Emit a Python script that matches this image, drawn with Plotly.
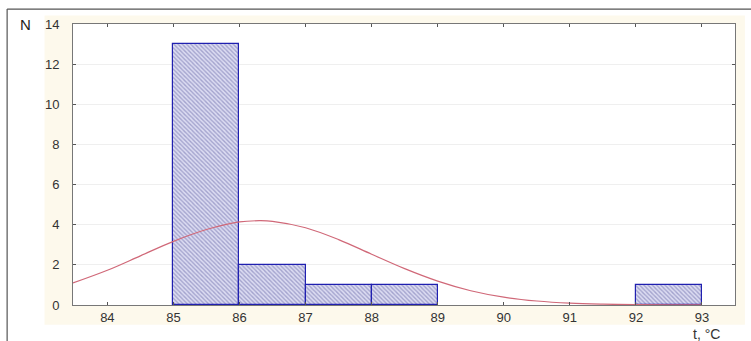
import plotly.graph_objects as go

# Histogram data (bin left edges, bin width 1)
bin_left = [85, 86, 87, 88, 92]
counts = [13, 2, 1, 1, 1]

# Fitted curve
curve_x = [83.48, 84.0, 84.5, 85.0, 85.5, 86.0, 86.3, 86.5, 87.0, 87.5, 88.0,
           88.5, 89.0, 89.5, 90.0, 90.5, 91.0, 91.5, 92.0, 92.5, 93.0]
curve_y = [1.10, 1.73, 2.45, 3.17, 3.76, 4.14, 4.20, 4.17, 3.85, 3.26, 2.53,
           1.81, 1.19, 0.71, 0.39, 0.20, 0.09, 0.04, 0.015, 0.005, 0.002]

x_ticks = [84, 85, 86, 87, 88, 89, 90, 91, 92, 93]
y_ticks = [0, 2, 4, 6, 8, 10, 12, 14]

centers = [b + 0.5 for b in bin_left]

fig = go.Figure()
fig.add_trace(go.Bar(
    x=centers, y=counts, width=[1] * len(centers),
    marker=dict(
        color="#d4d4ee",
        line=dict(color="#2020b0", width=1.2),
        pattern=dict(shape="\\", fgcolor="#6a6aa8", bgcolor="#dcdcf2", size=3, solidity=0.45),
    ),
    showlegend=False, hoverinfo="skip",
))
fig.add_trace(go.Scatter(
    x=curve_x, y=curve_y, mode="lines", line=dict(color="#d06878", width=1.2, shape="spline"),
    showlegend=False, hoverinfo="skip",
))

font = dict(family="Liberation Sans, Arial, sans-serif", size=13, color="#333333")

fig.update_layout(
    width=751, height=341,
    margin=dict(l=73, r=16, t=24, b=36),
    paper_bgcolor="white", plot_bgcolor="white",
    bargap=0, font=font,
    xaxis=dict(range=[83.48, 93.5], tickvals=x_ticks, ticks="inside", ticklen=3,
               tickcolor="#555", showline=True, linecolor="#777", linewidth=1,
               mirror="ticks", showgrid=False, zeroline=False, tickfont=font),
    yaxis=dict(range=[0, 14], tickvals=y_ticks, ticks="inside", ticklen=3,
               tickcolor="#555", showline=True, linecolor="#777", linewidth=1,
               mirror="ticks", showgrid=True, gridcolor="#efefef", zeroline=False,
               tickfont=font, ticklabelstandoff=10),
    shapes=[
        dict(type="rect", xref="paper", yref="paper", x0=-0.043, x1=1.015, y0=-0.07, y1=1.03,
             fillcolor="#fdf9ec", line=dict(width=0), layer="below"),
        dict(type="rect", xref="paper", yref="paper", x0=0, x1=1, y0=0, y1=1,
             fillcolor="white", line=dict(width=0), layer="below"),
        dict(type="line", xref="paper", yref="paper", x0=-0.0995, x1=1.03, y0=1.053, y1=1.053,
             line=dict(color="#555", width=1.2)),
        dict(type="line", xref="paper", yref="paper", x0=-0.0995, x1=-0.0995, y0=1.053, y1=-0.2,
             line=dict(color="#555", width=1.2)),
    ],
    annotations=[
        dict(text="N", xref="paper", yref="paper", x=-0.072, y=1.0, xanchor="center", yanchor="middle",
             showarrow=False, font=dict(family="Liberation Sans, Arial, sans-serif", size=15, color="#222")),
        dict(text="t, °C", xref="paper", yref="paper", x=0.933, y=-0.066, xanchor="left", yanchor="top",
             showarrow=False, font=dict(family="Liberation Sans, Arial, sans-serif", size=14, color="#333")),
    ],
)

fig.write_html("out.html", config={"displayModeBar": False},
               post_script="document.body.style.margin='0';")
